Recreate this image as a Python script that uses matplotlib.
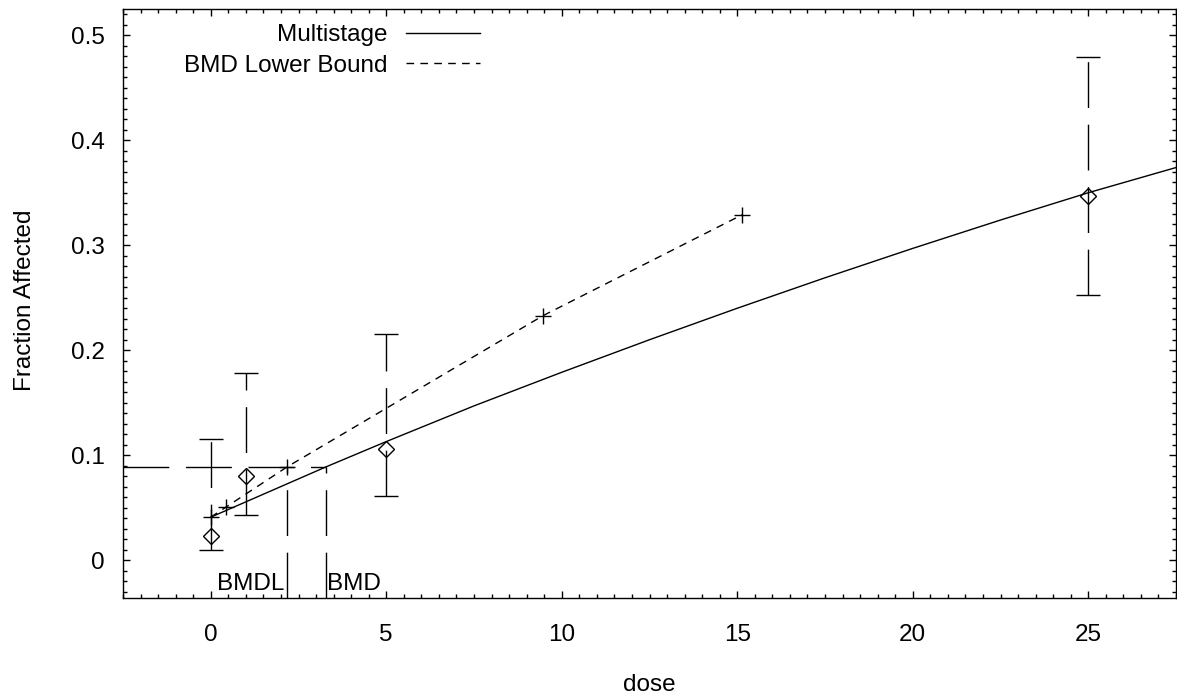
import matplotlib
matplotlib.use("Agg")
import matplotlib.pyplot as plt
from matplotlib.ticker import MultipleLocator

# observed dose groups: fraction affected with confidence limits
dose = [0, 1, 5, 25]
frac = [0.023, 0.080, 0.106, 0.347]
frac_lo = [0.010, 0.043, 0.061, 0.253]
frac_hi = [0.115, 0.178, 0.215, 0.479]

# fitted multistage curve
fit_dose = [0, 3.29, 5, 7.5, 10, 12.5, 15, 17.5, 20, 22.5, 25, 27.5]
fit_frac = [0.041, 0.089, 0.113, 0.147, 0.179, 0.210, 0.240, 0.269,
            0.297, 0.324, 0.350, 0.374]

# BMD lower bound curve
lb_dose = [0, 0.43, 2.18, 9.47, 15.14]
lb_frac = [0.041, 0.0505, 0.089, 0.233, 0.329]

bmr = 0.089
bmd = 3.29
bmdl = 2.18

xticks = [0, 5, 10, 15, 20, 25]
yticks = [0, 0.1, 0.2, 0.3, 0.4, 0.5]
ytick_labels = ["0", "0.1", "0.2", "0.3", "0.4", "0.5"]

plt.rcParams['font.family'] = ['Liberation Sans', 'DejaVu Sans']
plt.rcParams['font.size'] = 17.5

longdash = (0, (33, 12))

fig = plt.figure(figsize=(11.77, 6.98), dpi=100)
ax = fig.add_axes([123 / 1177, 100.5 / 698, 1053 / 1177, 588.5 / 698])
xmin, xmax = -2.5, 27.5
ymin, ymax = -0.0355, 0.525
ax.set_xlim(xmin, xmax)
ax.set_ylim(ymin, ymax)

# data with error bars
yerr = [[f - lo for f, lo in zip(frac, frac_lo)],
        [hi - f for f, hi in zip(frac, frac_hi)]]
eb = ax.errorbar(dose, frac, yerr=yerr, fmt='none', ecolor='black',
                 elinewidth=1, capsize=8.3, capthick=1)
eb[2][0].set_linestyle(longdash)
ax.plot(dose, frac, ls='none', marker='D', ms=8, mfc='none', mec='black', mew=1)

# model curves
ax.plot(fit_dose, fit_frac, color='black', lw=1, label='Multistage')
ax.plot(lb_dose, lb_frac, color='black', lw=1, ls=(0, (5.5, 4.5)),
        marker='+', ms=11, mew=1, label='BMD Lower Bound')

# BMR / BMD / BMDL guide lines
ax.hlines(bmr, xmin, bmd, colors='black', lw=1, linestyles=longdash)
ax.vlines([bmdl, bmd], ymin, bmr, colors='black', lw=1, linestyles=longdash)
ax.text(bmdl - 0.08, ymin + 0.007, 'BMDL', ha='right', va='baseline')
ax.text(bmd + 0.02, ymin + 0.007, 'BMD', ha='left', va='baseline')

# axes, ticks
ax.set_xticks(xticks)
ax.set_yticks(yticks)
ax.set_yticklabels(ytick_labels)
ax.xaxis.set_minor_locator(MultipleLocator(0.5))
ax.yaxis.set_minor_locator(MultipleLocator(0.01))
ax.tick_params(which='both', direction='in', top=True, right=True, width=1)
ax.tick_params(which='major', length=5)
ax.tick_params(which='minor', length=3)
ax.tick_params(axis='x', pad=19)
ax.tick_params(axis='y', pad=13)
for s in ax.spines.values():
    s.set_linewidth(1)

ax.set_xlabel('dose', va='center')
ax.xaxis.set_label_coords(0.5, -0.148)
ax.set_ylabel('Fraction Affected', va='center')
ax.yaxis.set_label_coords(-0.093, 0.505)

ax.legend(loc='upper left', bbox_to_anchor=(0.0575, 0.9745), frameon=False,
          markerfirst=False, borderpad=0, borderaxespad=0,
          handlelength=3.05, handletextpad=0.78, labelspacing=0.35)
leg = ax.get_legend()
for h in leg.legend_handles:
    h.set_marker('')

fig.savefig('out.png', dpi=100)
